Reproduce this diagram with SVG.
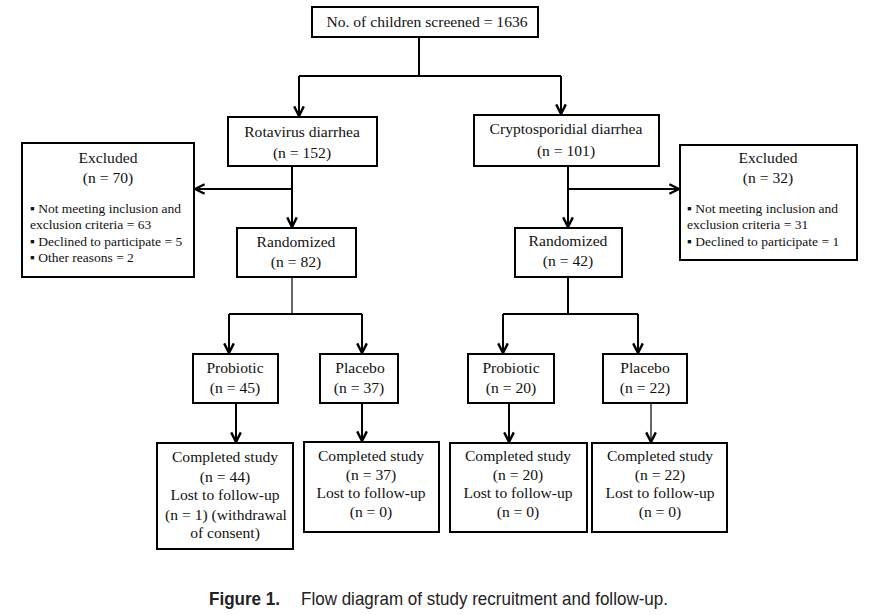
<svg xmlns="http://www.w3.org/2000/svg" width="877" height="615" viewBox="0 0 877 615">
<style>
.box{fill:#fff;stroke:#000;stroke-width:2}
.t{font-family:"Liberation Serif","Times New Roman",serif;font-size:15.6px;fill:#111;text-anchor:middle}
.s{font-family:"Liberation Serif","Times New Roman",serif;font-size:13.5px;fill:#111}
.c{stroke:#000;stroke-width:2;fill:none}
.thin{stroke:#000;stroke-width:1.2;fill:none}
.cap{font-family:"Liberation Sans",Arial,sans-serif;font-size:19px;fill:#222}
</style>
<defs>
<marker id="ah" viewBox="0 0 10 10" refX="9" refY="5" markerWidth="12" markerHeight="12" markerUnits="userSpaceOnUse" orient="auto">
<path d="M1,1 L9,5 L1,9" fill="none" stroke="#000" stroke-width="2"/>
</marker>
</defs>
<rect width="877" height="615" fill="#fff"/>
<g id="connectors">
<path class="c" d="M419,37 V76 M299,76 H561"/>
<path class="c" d="M299,76 V116" marker-end="url(#ah)"/>
<path class="c" d="M561,76 V114" marker-end="url(#ah)"/>
<path class="c" d="M292,166 V227" marker-end="url(#ah)"/>
<path class="c" d="M292,189 H195" marker-end="url(#ah)"/>
<path class="c" d="M568,166 V227" marker-end="url(#ah)"/>
<path class="c" d="M568,189 H679" marker-end="url(#ah)"/>
<path class="thin" d="M292,277 V314"/>
<path class="c" d="M229,314 H362"/>
<path class="c" d="M229,314 V353" marker-end="url(#ah)"/>
<path class="c" d="M362,314 V353" marker-end="url(#ah)"/>
<path class="c" d="M568,277 V314 M503,314 H638"/>
<path class="c" d="M503,314 V353" marker-end="url(#ah)"/>
<path class="c" d="M638,314 V353" marker-end="url(#ah)"/>
<path class="c" d="M236,403 V442" marker-end="url(#ah)"/>
<path class="c" d="M362,403 V441" marker-end="url(#ah)"/>
<path class="c" d="M509,403 V442" marker-end="url(#ah)"/>
<path class="thin" d="M651,403 V442" marker-end="url(#ah)"/>
</g>
<g id="screened">
<rect class="box" x="312" y="7" width="226" height="30"/>
<text class="t" x="427" y="27">No. of children screened = 1636</text>
</g>
<g id="rotavirus">
<rect class="box" x="228" y="117" width="149" height="49"/>
<text class="t" x="302" y="137">Rotavirus diarrhea</text>
<text class="t" x="302" y="158">(n = 152)</text>
</g>
<g id="crypto">
<rect class="box" x="474" y="115" width="185" height="51"/>
<text class="t" x="566" y="134">Cryptosporidial diarrhea</text>
<text class="t" x="566" y="156">(n = 101)</text>
</g>
<g id="excluded-left">
<rect class="box" x="22" y="143" width="172" height="134"/>
<text class="t" x="108" y="163">Excluded</text>
<text class="t" x="108" y="183">(n = 70)</text>
<text class="s" x="30" y="213">▪ Not meeting inclusion and</text>
<text class="s" x="30" y="229">exclusion criteria = 63</text>
<text class="s" x="30" y="246">▪ Declined to participate = 5</text>
<text class="s" x="30" y="262">▪ Other reasons = 2</text>
</g>
<g id="excluded-right">
<rect class="box" x="680" y="145" width="177" height="115"/>
<text class="t" x="768" y="163">Excluded</text>
<text class="t" x="768" y="183">(n = 32)</text>
<text class="s" x="687" y="213">▪ Not meeting inclusion and</text>
<text class="s" x="687" y="229">exclusion criteria = 31</text>
<text class="s" x="687" y="246">▪ Declined to participate = 1</text>
</g>
<g id="randomized-left">
<rect class="box" x="237" y="228" width="119" height="49"/>
<text class="t" x="296" y="247">Randomized</text>
<text class="t" x="296" y="267">(n = 82)</text>
</g>
<g id="randomized-right">
<rect class="box" x="515" y="228" width="107" height="49"/>
<text class="t" x="568" y="246">Randomized</text>
<text class="t" x="568" y="266">(n = 42)</text>
</g>
<g id="probiotic-left">
<rect class="box" x="193" y="354" width="85" height="49"/>
<text class="t" x="235" y="373">Probiotic</text>
<text class="t" x="235" y="393">(n = 45)</text>
</g>
<g id="placebo-left">
<rect class="box" x="320" y="354" width="78" height="49"/>
<text class="t" x="360" y="373">Placebo</text>
<text class="t" x="359" y="393">(n = 37)</text>
</g>
<g id="probiotic-right">
<rect class="box" x="468" y="354" width="86" height="49"/>
<text class="t" x="511" y="373">Probiotic</text>
<text class="t" x="511" y="393">(n = 20)</text>
</g>
<g id="placebo-right">
<rect class="box" x="603" y="354" width="84" height="49"/>
<text class="t" x="645" y="373">Placebo</text>
<text class="t" x="645" y="393">(n = 22)</text>
</g>
<g id="completed-1">
<rect class="box" x="157" y="443" width="136" height="106"/>
<text class="t" x="225" y="462">Completed study</text>
<text class="t" x="225" y="482">(n = 44)</text>
<text class="t" x="225" y="500">Lost to follow-up</text>
<text class="t" x="226" y="520">(n = 1) (withdrawal</text>
<text class="t" x="225" y="538">of consent)</text>
</g>
<g id="completed-2">
<rect class="box" x="304" y="442" width="135" height="90"/>
<text class="t" x="371" y="461">Completed study</text>
<text class="t" x="371" y="480">(n = 37)</text>
<text class="t" x="371" y="498">Lost to follow-up</text>
<text class="t" x="371" y="517">(n = 0)</text>
</g>
<g id="completed-3">
<rect class="box" x="450" y="443" width="137" height="89"/>
<text class="t" x="518" y="461">Completed study</text>
<text class="t" x="518" y="480">(n = 20)</text>
<text class="t" x="518" y="498">Lost to follow-up</text>
<text class="t" x="518" y="517">(n = 0)</text>
</g>
<g id="completed-4">
<rect class="box" x="592" y="443" width="135" height="89"/>
<text class="t" x="660" y="461">Completed study</text>
<text class="t" x="660" y="480">(n = 22)</text>
<text class="t" x="660" y="498">Lost to follow-up</text>
<text class="t" x="660" y="517">(n = 0)</text>
</g>
<g id="caption">
<text class="cap" x="209" y="605" font-weight="bold" textLength="71" lengthAdjust="spacingAndGlyphs">Figure 1.</text>
<text class="cap" x="301" y="605" textLength="367" lengthAdjust="spacingAndGlyphs">Flow diagram of study recruitment and follow-up.</text>
</g>
</svg>
